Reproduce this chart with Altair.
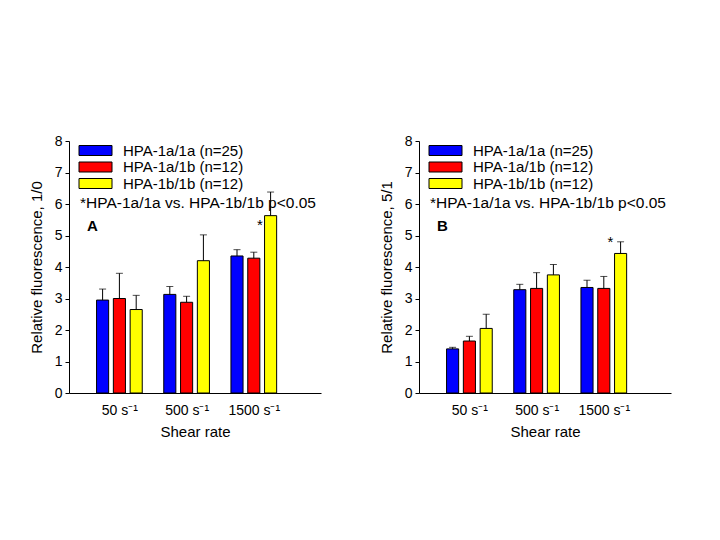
import altair as alt
import pandas as pd

groups = ["50 s\u207b\u00b9", "500 s\u207b\u00b9", "1500 s\u207b\u00b9"]
genotypes = ["HPA-1a/1a (n=25)", "HPA-1a/1b (n=12)", "HPA-1b/1b (n=12)"]
colors = ["#0000FF", "#FF0000", "#FFFF00"]

# Panel A (1/0): mean per genotype across shear rates
a_mean = {
    "HPA-1a/1a (n=25)": [2.95, 3.13, 4.35],
    "HPA-1a/1b (n=12)": [3.00, 2.88, 4.28],
    "HPA-1b/1b (n=12)": [2.65, 4.20, 5.63],
}
a_err = {
    "HPA-1a/1a (n=25)": [3.30, 3.38, 4.55],
    "HPA-1a/1b (n=12)": [3.80, 3.07, 4.47],
    "HPA-1b/1b (n=12)": [3.10, 5.02, 6.38],
}
# Panel B (5/1)
b_mean = {
    "HPA-1a/1a (n=25)": [1.40, 3.28, 3.35],
    "HPA-1a/1b (n=12)": [1.65, 3.32, 3.32],
    "HPA-1b/1b (n=12)": [2.05, 3.75, 4.43],
}
b_err = {
    "HPA-1a/1a (n=25)": [1.45, 3.45, 3.58],
    "HPA-1a/1b (n=12)": [1.80, 3.82, 3.70],
    "HPA-1b/1b (n=12)": [2.50, 4.08, 4.80],
}
note = "*HPA-1a/1a vs. HPA-1b/1b p<0.05"
star_a = {"x": 3.09, "y": 5.32}
star_b = {"x": 3.10, "y": 4.80}

FONT = "Liberation Sans"
OFFSET = 0.25
HALF = 0.09


def make_df(means, errs):
    rows = []
    for gi, g in enumerate(genotypes):
        for si, s in enumerate(groups):
            xc = si + 1 + (gi - 1) * OFFSET
            rows.append({"geno": g, "shear": s, "xc": xc, "x1": xc - HALF,
                         "x2": xc + HALF, "mean": means[g][si], "err": errs[g][si]})
    return pd.DataFrame(rows)


label_expr = " : ".join(
    [f"datum.value == {i + 1} ? '{g}'" for i, g in enumerate(groups[:-1])]
) + f" : '{groups[-1]}'"

xscale = alt.Scale(domain=[0.25, 4.0], nice=False, zero=False)
yscale = alt.Scale(domain=[0, 8], nice=False)


def panel(df, ytitle, letter, star):
    base = alt.Chart(df)
    xaxis = alt.Axis(values=[1, 2, 3], labelExpr=label_expr, title="Shear rate",
                     ticks=False, labelPadding=10, titlePadding=7, labelFontSize=14,
                     titleFontSize=15)
    yaxis = alt.Axis(values=list(range(9)), tickCount=9, labelOverlap=False, title=ytitle,
                     tickSize=4, labelFontSize=14, titleFontSize=15, titlePadding=10,
                     labelPadding=3)
    X = lambda f: alt.X(f, scale=xscale, axis=xaxis)
    Y = lambda f: alt.Y(f, scale=yscale, axis=yaxis)
    bars = base.mark_bar(stroke="black", strokeWidth=1).encode(
        x=X("x1:Q"),
        x2="x2:Q",
        y=Y("mean:Q"),
        y2=alt.datum(0),
        color=alt.Color("geno:N", scale=alt.Scale(domain=genotypes, range=colors),
                        legend=alt.Legend(title=None, orient="none", legendX=19, legendY=2,
                                          symbolType="M-3.3,-1L3.3,-1L3.3,1L-3.3,1Z",
                                          symbolSize=100, symbolStrokeColor="black",
                                          symbolStrokeWidth=1, symbolOpacity=1,
                                          labelFontSize=15, labelFont=FONT,
                                          labelOffset=20, rowPadding=0.5, padding=0)),
    )
    rules = base.mark_rule(color="black", strokeWidth=1).encode(
        x=X("xc:Q"), y=Y("mean:Q"), y2="err:Q")
    caps = base.mark_tick(orient="horizontal", size=7, thickness=1, color="black").encode(
        x=X("xc:Q"), y=Y("err:Q"))
    star_df = pd.DataFrame([star])
    stars = alt.Chart(star_df).mark_text(text="*", fontSize=15, font=FONT,
                                         baseline="middle", color="black").encode(
        x=X("x:Q"), y=Y("y:Q"))
    note_t = alt.Chart(pd.DataFrame({"t": [note]})).mark_text(
        fontSize=15.5, font=FONT, align="left", baseline="middle", color="black").encode(
        text="t:N", x=alt.value(11), y=alt.value(62))
    let_t = alt.Chart(pd.DataFrame({"t": [letter]})).mark_text(
        fontSize=15, font=FONT, fontWeight="bold", align="left", baseline="middle",
        color="black").encode(text="t:N", x=alt.value(18), y=alt.value(85))
    return alt.layer(bars, rules, caps, stars, note_t, let_t).properties(width=252, height=252)


pa = panel(make_df(a_mean, a_err), "Relative fluorescence, 1/0", "A", star_a)
pb = panel(make_df(b_mean, b_err), "Relative fluorescence, 5/1", "B", star_b)

chart = alt.hconcat(pa, pb, spacing=58).resolve_scale(color="independent").properties(
    padding={"left": 21, "top": 126, "right": 5, "bottom": 5}
).configure_view(stroke=None).configure_axis(
    grid=False, domainColor="black", tickColor="black", labelColor="black",
    titleColor="black", labelFont=FONT, titleFont=FONT, titleFontWeight="normal"
)

chart.save("out.html", embed_options={"renderer": "svg", "actions": False})
